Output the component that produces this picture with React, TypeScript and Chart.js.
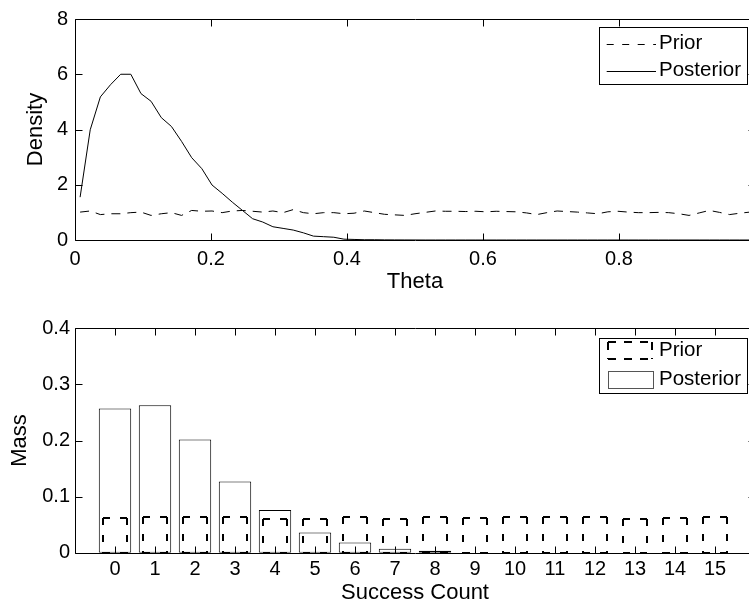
import React, { useEffect, useRef } from 'react';
import { Chart, registerables } from 'chart.js';

Chart.register(...registerables);

const FONT = "'Liberation Sans', Arial, Helvetica, sans-serif";
Chart.defaults.font.family = FONT;
Chart.defaults.color = '#000';

// ---------- top panel: densities over theta ----------
const theta = [
  0.0075, 0.0224, 0.0373, 0.0522, 0.0672, 0.0821, 0.097, 0.1119, 0.1269, 0.1418,
  0.1567, 0.1716, 0.1866, 0.2015, 0.2164, 0.2313, 0.2463, 0.2612, 0.2761, 0.291,
  0.306, 0.3209, 0.3358, 0.3507, 0.3657, 0.3806, 0.3955, 0.4104, 0.4254, 0.4403,
  0.4552, 0.4701, 0.4851, 0.5, 0.5149, 0.5299, 0.5448, 0.5597, 0.5746, 0.5896,
  0.6045, 0.6194, 0.6343, 0.6493, 0.6642, 0.6791, 0.694, 0.709, 0.7239, 0.7388,
  0.7537, 0.7687, 0.7836, 0.7985, 0.8134, 0.8284, 0.8433, 0.8582, 0.8731, 0.8881,
  0.903, 0.9179, 0.9328, 0.9478, 0.9627, 0.9776, 0.9925,
];
const priorDensity = [
  1.01, 1.05, 0.92, 0.95, 0.95, 0.99, 1.01, 0.89, 0.95, 0.99,
  0.89, 1.07, 1.04, 1.05, 0.99, 1.05, 1.07, 1.04, 1.01, 1.05,
  0.99, 1.1, 0.99, 0.95, 0.99, 0.99, 0.95, 0.97, 1.05, 0.99,
  0.93, 0.91, 0.89, 0.95, 1.0, 1.05, 1.04, 1.04, 1.03, 1.04,
  1.02, 1.04, 1.03, 1.02, 0.98, 0.92, 0.99, 1.05, 1.03, 1.01,
  0.98, 0.95, 1.02, 1.04, 1.01, 0.99, 0.99, 1.0, 0.99, 0.95,
  0.89, 0.98, 1.07, 1.0, 0.92, 0.97, 1.01,
];
const posteriorDensity = [
  1.55, 3.99, 5.18, 5.62, 6.0, 6.0, 5.3, 5.02, 4.43, 4.11,
  3.57, 2.98, 2.58, 1.99, 1.69, 1.37, 1.07, 0.77, 0.65, 0.48,
  0.42, 0.36, 0.26, 0.14, 0.12, 0.1, 0.03, 0.02, 0.01, 0.01,
  0.005, 0.003, 0.002, 0.001, 0, 0, 0, 0, 0, 0,
  0, 0, 0, 0, 0, 0, 0, 0, 0, 0,
  0, 0, 0, 0, 0, 0, 0, 0, 0, 0,
  0, 0, 0, 0, 0, 0, 0,
];
const thetaTickLabels = ['0', '0.2', '0.4', '0.6', '0.8', ''];

// ---------- bottom panel: masses over success count ----------
const successCounts = [0, 1, 2, 3, 4, 5, 6, 7, 8, 9, 10, 11, 12, 13, 14, 15];
const priorMass = [
  0.061, 0.064, 0.063, 0.064, 0.06, 0.06, 0.064, 0.06,
  0.064, 0.062, 0.064, 0.064, 0.064, 0.06, 0.062, 0.064,
];
const posteriorMass = [
  0.257, 0.263, 0.202, 0.127, 0.076, 0.036, 0.018, 0.007,
  0.0035, 0, 0, 0, 0, 0, 0, 0,
];

type LegendItem = {
  label: string;
  kind: 'line' | 'dashline' | 'patch' | 'dashpatch';
  y: number; // relative to box top
  h?: number;
};
type LegendCfg = {
  right: number; // distance from chartArea.right
  top: number; // distance from chartArea.top
  w: number;
  h: number;
  sx0: number;
  sx1: number;
  tx: number;
  fontSize: number;
  items: LegendItem[];
};

function seg(ctx: CanvasRenderingContext2D, x0: number, y0: number, x1: number, y1: number) {
  ctx.beginPath();
  ctx.moveTo(x0, y0);
  ctx.lineTo(x1, y1);
  ctx.stroke();
}

function dashedBox(ctx: CanvasRenderingContext2D, x0: number, y0: number, x1: number, y1: number) {
  seg(ctx, x0, y0, x1, y0);
  seg(ctx, x0, y0, x0, y1);
  seg(ctx, x1, y0, x1, y1);
  seg(ctx, x0, y1, x1, y1);
}

function makeFramePlugin(legend: LegendCfg, dashedBars: number | null) {
  return {
    id: 'matlabFrame',
    afterDatasetsDraw(chart: any) {
      if (dashedBars == null) return;
      const ctx: CanvasRenderingContext2D = chart.ctx;
      const meta = chart.getDatasetMeta(dashedBars);
      ctx.save();
      ctx.strokeStyle = '#000';
      ctx.lineWidth = 2;
      ctx.setLineDash([7, 10]);
      for (const el of meta.data) {
        const { x, y, base, width } = el.getProps(['x', 'y', 'base', 'width'], true);
        const x0 = Math.round(x - width / 2);
        const x1 = Math.round(x + width / 2);
        dashedBox(ctx, x0, Math.round(y), x1, Math.round(base));
      }
      ctx.restore();
    },
    afterDraw(chart: any) {
      const ctx: CanvasRenderingContext2D = chart.ctx;
      const a = chart.chartArea;
      const xs = chart.scales.x;
      const ys = chart.scales.y;
      const L = Math.round(a.left) + 0.5;
      const R = Math.round(a.right) + 0.5;
      const T = Math.round(a.top) + 0.5;
      const B = Math.round(a.bottom) + 0.5;
      const tl = 7;
      ctx.save();
      ctx.strokeStyle = '#000';
      ctx.lineWidth = 1;
      ctx.setLineDash([]);
      ctx.beginPath();
      ctx.rect(L, T, R - L, B - T);
      for (const t of xs.ticks) {
        const p = Math.round(xs.getPixelForValue(t.value)) + 0.5;
        ctx.moveTo(p, B);
        ctx.lineTo(p, B - tl);
        ctx.moveTo(p, T);
        ctx.lineTo(p, T + tl);
      }
      for (const t of ys.ticks) {
        const p = Math.round(ys.getPixelForValue(t.value)) + 0.5;
        ctx.moveTo(L, p);
        ctx.lineTo(L + tl, p);
        ctx.moveTo(R, p);
        ctx.lineTo(R - tl, p);
      }
      ctx.stroke();

      // legend
      const bl = Math.round(a.right - legend.right - legend.w);
      const bt = Math.round(a.top + legend.top);
      ctx.fillStyle = '#fff';
      ctx.fillRect(bl, bt, legend.w, legend.h);
      ctx.strokeStyle = '#000';
      ctx.lineWidth = 1;
      ctx.strokeRect(bl + 0.5, bt + 0.5, legend.w, legend.h);
      ctx.font = `${legend.fontSize}px ${FONT}`;
      ctx.textBaseline = 'middle';
      ctx.textAlign = 'left';
      for (const it of legend.items) {
        const y = bt + it.y;
        const x0 = bl + legend.sx0;
        const x1 = bl + legend.sx1;
        ctx.strokeStyle = '#000';
        if (it.kind === 'line' || it.kind === 'dashline') {
          ctx.lineWidth = 1;
          ctx.setLineDash(it.kind === 'dashline' ? [7, 8.5] : []);
          seg(ctx, x0, Math.round(y) + 0.5, x1, Math.round(y) + 0.5);
        } else if (it.kind === 'dashpatch') {
          const h = it.h || 16;
          ctx.lineWidth = 2;
          ctx.setLineDash([8, 8]);
          dashedBox(ctx, Math.round(x0), Math.round(y - h / 2), Math.round(x1), Math.round(y + h / 2));
        } else {
          const h = it.h || 16;
          ctx.lineWidth = 1;
          ctx.setLineDash([]);
          ctx.strokeStyle = '#555';
          ctx.strokeRect(Math.round(x0) + 0.5, Math.round(y - h / 2) + 0.5, Math.round(x1 - x0), Math.round(h));
        }
        ctx.setLineDash([]);
        ctx.fillStyle = '#000';
        ctx.fillText(it.label, bl + legend.tx, y);
      }
      ctx.restore();
    },
  };
}

const noGrid = { display: false, drawTicks: false };
const noBorder = { display: false };

function topConfig(): any {
  return {
    type: 'line',
    data: {
      datasets: [
        {
          label: 'Prior',
          data: theta.map((t, i) => ({ x: t, y: priorDensity[i] })),
          borderColor: '#000',
          borderWidth: 1,
          borderDash: [9, 7],
          pointRadius: 0,
          tension: 0,
          fill: false,
        },
        {
          label: 'Posterior',
          data: theta.map((t, i) => ({ x: t, y: posteriorDensity[i] })),
          borderColor: '#000',
          borderWidth: 1,
          pointRadius: 0,
          tension: 0,
          fill: false,
        },
      ],
    },
    options: {
      responsive: false,
      animation: false,
      devicePixelRatio: 1,
      layout: { padding: { left: 0, right: 15, top: 16, bottom: 0 } },
      plugins: { legend: { display: false }, tooltip: { enabled: false } },
      scales: {
        x: {
          type: 'linear',
          min: 0,
          max: 1,
          ticks: {
            stepSize: 0.2,
            font: { size: 20 },
            padding: 7,
            maxRotation: 0,
            autoSkip: false,
            callback: (_v: any, i: number) => thetaTickLabels[i] ?? '',
          },
          grid: noGrid,
          border: noBorder,
          title: { display: true, text: 'Theta', font: { size: 22 }, padding: { top: 0, bottom: 4.4 } },
          afterFit: (s: any) => {
            s.height = 60;
          },
        },
        y: {
          min: 0,
          max: 8,
          ticks: { stepSize: 2, font: { size: 20 }, padding: 7 },
          grid: noGrid,
          border: noBorder,
          title: { display: true, text: 'Density', font: { size: 22 }, padding: { top: 23, bottom: 0 } },
          afterFit: (s: any) => {
            s.width = 75;
          },
        },
      },
    },
    plugins: [
      makeFramePlugin(
        {
          right: 8,
          top: 8,
          w: 148,
          h: 57,
          sx0: 7.7,
          sx1: 57,
          tx: 60,
          fontSize: 20.5,
          items: [
            { label: 'Prior', kind: 'dashline', y: 16.6 },
            { label: 'Posterior', kind: 'line', y: 43.6 },
          ],
        },
        null
      ),
    ],
  };
}

function bottomConfig(): any {
  return {
    type: 'bar',
    data: {
      datasets: [
        {
          label: 'Posterior',
          data: successCounts.map((c, i) => ({ x: c, y: posteriorMass[i] })),
          backgroundColor: '#fff',
          borderColor: '#000',
          borderWidth: 1,
          borderSkipped: false,
          barPercentage: 0.81,
          categoryPercentage: 1,
          grouped: false,
        },
        {
          label: 'Prior',
          data: successCounts.map((c, i) => ({ x: c, y: priorMass[i] })),
          backgroundColor: 'rgba(0,0,0,0)',
          borderWidth: 0,
          barPercentage: 0.605,
          categoryPercentage: 1,
          grouped: false,
        },
      ],
    },
    options: {
      responsive: false,
      animation: false,
      devicePixelRatio: 1,
      layout: { padding: { left: 0, right: 15, top: 28.3, bottom: 0 } },
      plugins: { legend: { display: false }, tooltip: { enabled: false } },
      scales: {
        x: {
          type: 'linear',
          min: -1,
          max: 16,
          offset: false,
          ticks: {
            stepSize: 1,
            font: { size: 20 },
            padding: 5,
            maxRotation: 0,
            autoSkip: false,
            callback: (v: any) => (v < 0 || v > 15 ? '' : String(v)),
          },
          grid: { display: false, drawTicks: false, offset: false },
          border: noBorder,
          title: { display: true, text: 'Success Count', font: { size: 22 }, padding: { top: 0, bottom: 0 } },
          afterFit: (s: any) => {
            s.height = 53.3;
          },
        },
        y: {
          min: 0,
          max: 0.4,
          ticks: { stepSize: 0.1, font: { size: 20 }, padding: 5 },
          grid: noGrid,
          border: noBorder,
          title: { display: true, text: 'Mass', font: { size: 22 }, padding: { top: 7, bottom: 0 } },
          afterFit: (s: any) => {
            s.width = 75;
          },
        },
      },
    },
    plugins: [
      makeFramePlugin(
        {
          right: 8,
          top: 10,
          w: 148,
          h: 55,
          sx0: 8.5,
          sx1: 53,
          tx: 60,
          fontSize: 20.5,
          items: [
            { label: 'Prior', kind: 'dashpatch', y: 12.3, h: 16.6 },
            { label: 'Posterior', kind: 'patch', y: 41, h: 16.6 },
          ],
        },
        1
      ),
    ],
  };
}

export default function App() {
  const topRef = useRef<HTMLCanvasElement>(null);
  const botRef = useRef<HTMLCanvasElement>(null);
  useEffect(() => {
    const c1 = new Chart(topRef.current as HTMLCanvasElement, topConfig());
    const c2 = new Chart(botRef.current as HTMLCanvasElement, bottomConfig());
    return () => {
      c1.destroy();
      c2.destroy();
    };
  }, []);
  return (
    <div
      style={{
        position: 'fixed',
        left: 0,
        top: 0,
        width: 749,
        height: 606,
        overflow: 'hidden',
        background: '#fff',
      }}
    >
      <canvas ref={topRef} width={770} height={300} style={{ display: 'block', width: 770, height: 300 }} />
      <canvas ref={botRef} width={770} height={306} style={{ display: 'block', width: 770, height: 306 }} />
    </div>
  );
}
